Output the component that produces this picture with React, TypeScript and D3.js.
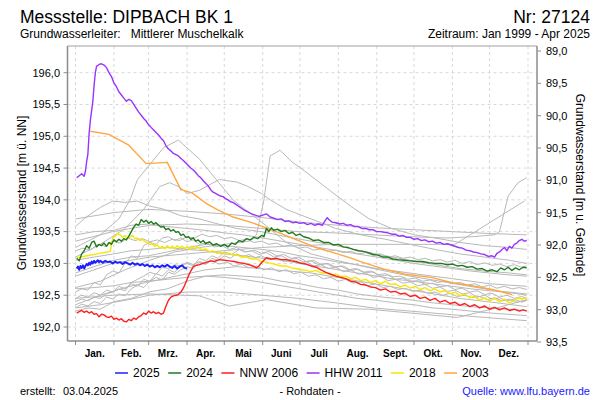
import React from "react";
import * as d3 from "d3";

type Pt = [number, number];

// ---------- DATA ----------
const MONTHS = ["Jan.", "Feb.", "Mrz.", "Apr.", "Mai", "Juni", "Juli", "Aug.", "Sept.", "Okt.", "Nov.", "Dez."];
const MONTH_START = [0, 31, 59, 90, 120, 151, 181, 212, 243, 273, 304, 334, 365];
const LEFT_TICKS = [192, 192.5, 193, 193.5, 194, 194.5, 195, 195.5, 196];
const RIGHT_TICKS = [89, 89.5, 90, 90.5, 91, 91.5, 92, 92.5, 93, 93.5];

const S2025: Pt[] = [[1,192.92],[2,192.95],[3,192.9],[4,192.96],[5,192.93],[6,192.97],[7,192.92],[8,192.96],[9,192.99],[10,192.97],[11,193.01],[12,192.98],[13,193.03],[14,193.0],[15,193.04],[16,193.01],[17,193.03],[18,193.05],[19,193.02],[20,193.04],[22,193.01],[24,193.04],[26,193.02],[28,193.03],[30,193.0],[32,193.03],[34,193.01],[36,193.02],[38,192.99],[40,193.02],[42,193.0],[44,192.98],[46,193.01],[48,192.98],[50,193.0],[52,192.97],[54,192.99],[56,192.96],[58,192.98],[60,192.95],[62,192.97],[64,192.94],[66,192.96],[68,192.94],[70,192.97],[72,192.95],[74,192.98],[76,192.95],[78,192.93],[80,192.96],[82,192.92],[84,192.95],[86,192.97],[88,192.93],[90,192.92]];

const S2024: Pt[] = [[1,193.08],[3,193.04],[5,193.15],[7,193.2],[9,193.28],[11,193.24],[13,193.33],[15,193.35],[17,193.26],[19,193.3],[21,193.28],[23,193.32],[25,193.27],[27,193.33],[29,193.3],[31,193.37],[33,193.34],[35,193.38],[37,193.35],[39,193.39],[41,193.37],[43,193.43],[45,193.5],[47,193.57],[49,193.62],[51,193.6],[53,193.69],[55,193.65],[57,193.68],[59,193.63],[61,193.66],[63,193.62],[65,193.64],[67,193.6],[69,193.57],[71,193.58],[73,193.53],[75,193.55],[77,193.51],[79,193.53],[81,193.49],[83,193.5],[85,193.44],[87,193.46],[89,193.41],[91,193.42],[93,193.38],[95,193.4],[97,193.35],[99,193.37],[101,193.33],[103,193.36],[105,193.31],[108,193.34],[111,193.29],[114,193.31],[117,193.27],[120,193.3],[123,193.26],[126,193.32],[129,193.3],[132,193.36],[135,193.34],[138,193.39],[141,193.37],[144,193.41],[147,193.39],[150,193.44],[152,193.42],[154,193.55],[156,193.5],[158,193.56],[160,193.52],[163,193.54],[166,193.5],[169,193.52],[172,193.47],[175,193.49],[178,193.44],[181,193.46],[184,193.42],[188,193.4],[192,193.36],[196,193.37],[200,193.33],[204,193.33],[208,193.29],[212,193.3],[216,193.26],[220,193.25],[224,193.22],[228,193.2],[232,193.19],[236,193.17],[240,193.14],[244,193.13],[248,193.1],[252,193.1],[256,193.07],[260,193.06],[265,193.05],[270,193.04],[275,193.03],[280,193.03],[285,193.01],[290,193.0],[295,193.0],[300,192.98],[304,192.99],[308,192.96],[312,192.97],[316,192.94],[320,192.95],[324,192.91],[328,192.92],[332,192.88],[336,192.9],[340,192.87],[343,192.93],[346,192.9],[349,192.94],[352,192.89],[355,192.93],[358,192.9],[361,192.94],[364,192.93]];

const NNW2006: Pt[] = [[1,192.22],[3,192.24],[5,192.26],[7,192.23],[9,192.25],[11,192.22],[13,192.24],[15,192.2],[17,192.21],[19,192.16],[21,192.2],[23,192.19],[25,192.16],[27,192.15],[29,192.17],[31,192.12],[33,192.14],[35,192.11],[37,192.13],[39,192.09],[41,192.08],[43,192.12],[45,192.1],[47,192.14],[49,192.12],[51,192.16],[53,192.18],[55,192.22],[57,192.2],[59,192.25],[61,192.22],[63,192.24],[65,192.21],[67,192.23],[69,192.2],[71,192.22],[73,192.33],[75,192.42],[77,192.47],[79,192.49],[81,192.5],[83,192.51],[85,192.55],[87,192.61],[89,192.7],[91,192.8],[93,192.88],[95,192.95],[97,192.97],[100,192.98],[103,193.0],[106,193.02],[109,193.04],[112,193.03],[116,193.06],[120,193.05],[124,193.04],[128,193.03],[132,193.01],[136,193.0],[140,192.98],[143,192.96],[146,192.93],[148,192.96],[150,193.01],[152,193.05],[154,193.09],[158,193.07],[162,193.08],[166,193.06],[170,193.06],[174,193.04],[178,193.03],[182,193.0],[186,192.99],[190,192.96],[194,192.94],[198,192.9],[202,192.86],[206,192.83],[210,192.8],[214,192.78],[218,192.76],[222,192.72],[226,192.71],[230,192.67],[234,192.66],[238,192.63],[242,192.62],[246,192.58],[250,192.6],[254,192.55],[258,192.56],[262,192.52],[266,192.53],[270,192.48],[274,192.5],[278,192.45],[282,192.47],[286,192.42],[290,192.45],[294,192.39],[298,192.42],[302,192.37],[306,192.39],[310,192.34],[314,192.37],[318,192.32],[322,192.35],[326,192.3],[330,192.33],[334,192.28],[338,192.31],[342,192.27],[346,192.3],[350,192.26],[354,192.28],[358,192.25],[361,192.27],[364,192.25]];

const HHW2011: Pt[] = [[1,194.35],[3,194.38],[5,194.41],[7,194.37],[8,194.45],[9,194.6],[10,194.72],[11,195.05],[12,195.25],[13,195.4],[14,195.55],[15,195.8],[16,196.0],[17,196.1],[19,196.13],[21,196.14],[23,196.12],[25,196.08],[27,196.0],[29,195.94],[31,195.84],[33,195.78],[35,195.7],[37,195.65],[39,195.6],[41,195.55],[43,195.58],[45,195.56],[47,195.5],[49,195.44],[51,195.38],[53,195.33],[55,195.28],[57,195.24],[59,195.18],[61,195.14],[63,195.1],[65,195.06],[67,195.02],[69,194.97],[71,194.93],[73,194.85],[75,194.8],[77,194.77],[79,194.73],[81,194.71],[83,194.69],[85,194.65],[87,194.62],[89,194.58],[91,194.54],[93,194.5],[95,194.47],[97,194.43],[99,194.38],[101,194.35],[103,194.3],[105,194.26],[107,194.22],[109,194.16],[111,194.12],[113,194.1],[115,194.08],[117,194.06],[119,194.05],[121,194.02],[123,194.0],[125,193.97],[127,193.96],[130,193.92],[133,193.88],[136,193.84],[139,193.81],[142,193.78],[145,193.76],[148,193.74],[151,193.76],[154,193.78],[157,193.73],[160,193.71],[163,193.69],[166,193.7],[169,193.66],[172,193.67],[175,193.64],[178,193.65],[181,193.63],[184,193.64],[187,193.61],[190,193.63],[193,193.6],[196,193.62],[199,193.6],[201,193.66],[203,193.72],[205,193.68],[207,193.65],[210,193.64],[213,193.62],[216,193.63],[219,193.6],[222,193.61],[225,193.58],[228,193.58],[231,193.55],[234,193.55],[237,193.53],[240,193.53],[243,193.5],[246,193.5],[249,193.49],[252,193.48],[255,193.46],[258,193.46],[261,193.43],[264,193.44],[267,193.41],[270,193.41],[273,193.38],[276,193.39],[279,193.36],[282,193.37],[285,193.34],[288,193.35],[291,193.32],[294,193.33],[297,193.3],[300,193.31],[303,193.29],[306,193.27],[309,193.25],[312,193.24],[315,193.21],[318,193.2],[321,193.18],[324,193.17],[327,193.15],[330,193.14],[333,193.11],[336,193.12],[338,193.1],[340,193.16],[342,193.18],[344,193.22],[346,193.25],[348,193.2],[350,193.27],[352,193.24],[354,193.3],[356,193.32],[358,193.36],[360,193.38],[362,193.35],[364,193.36]];

const S2018: Pt[] = [[1,193.09],[28,193.19],[30,193.4],[32,193.43],[34,193.47],[36,193.45],[38,193.41],[40,193.44],[42,193.39],[44,193.42],[46,193.44],[48,193.39],[50,193.4],[52,193.36],[54,193.38],[56,193.34],[58,193.33],[60,193.3],[62,193.31],[64,193.27],[66,193.29],[68,193.24],[70,193.27],[72,193.23],[74,193.28],[76,193.24],[78,193.27],[80,193.23],[82,193.28],[84,193.24],[86,193.27],[88,193.23],[90,193.26],[92,193.22],[94,193.27],[96,193.23],[98,193.26],[100,193.24],[102,193.21],[105,193.23],[108,193.18],[111,193.2],[114,193.16],[117,193.18],[120,193.15],[124,193.16],[127,193.13],[130,193.14],[134,193.1],[138,193.1],[142,193.07],[146,193.07],[150,193.03],[154,193.02],[158,193.0],[162,192.98],[166,192.96],[170,192.96],[174,192.93],[178,192.92],[182,192.9],[186,192.89],[190,192.87],[194,192.89],[198,192.85],[202,192.85],[206,192.82],[210,192.83],[214,192.79],[218,192.8],[222,192.76],[226,192.78],[230,192.73],[234,192.75],[238,192.7],[242,192.73],[246,192.68],[250,192.72],[254,192.67],[258,192.68],[262,192.63],[266,192.66],[270,192.61],[274,192.64],[278,192.59],[282,192.62],[286,192.57],[290,192.6],[294,192.55],[298,192.57],[302,192.52],[306,192.55],[310,192.49],[314,192.52],[318,192.46],[322,192.48],[326,192.42],[330,192.46],[334,192.41],[338,192.45],[342,192.4],[346,192.44],[350,192.38],[354,192.42],[357,192.46],[360,192.44],[364,192.46]];

const S2003: Pt[] = [[12,195.08],[27,195.03],[43,194.86],[57,194.57],[74,194.59],[85,194.16],[94,194.11],[105,193.95],[114,193.85],[127,193.73],[141,193.65],[154,193.56],[167,193.46],[181,193.35],[194,193.25],[208,193.17],[221,193.09],[233,193.01],[249,192.91],[266,192.83],[287,192.78],[303,192.7],[322,192.64],[336,192.59],[352,192.51]];

const GRAY_YEARS: Pt[][] = [
  [[0,192.62],[20,192.72],[40,192.9],[60,193.05],[80,193.18],[100,193.25],[120,193.3],[140,193.35],[146,193.45],[152,194.0],[157,194.69],[165,194.78],[175,194.59],[181,194.51],[195,194.3],[207,194.12],[222,193.9],[237,193.7],[255,193.55],[273,193.45],[290,193.4],[310,193.33],[330,193.28],[350,193.25],[364,193.22]],
  [[0,193.25],[20,193.45],[35,193.7],[44,194.0],[50,194.32],[71,194.82],[83,194.94],[100,194.64],[127,194.0],[154,193.59],[170,193.33],[190,193.15],[210,193.05],[240,192.92],[270,192.8],[300,192.7],[330,192.6],[364,192.5]],
  [[0,193.58],[8,193.72],[20,193.88],[30,193.98],[40,193.96],[50,193.98],[60,193.9],[70,193.86],[85,193.75],[100,193.7],[115,193.62],[130,193.55],[150,193.5],[170,193.42],[190,193.35],[210,193.28],[230,193.2],[250,193.12],[270,193.05],[290,192.98],[310,192.92],[330,192.88],[350,192.85],[364,192.82]],
  [[0,193.1],[20,193.3],[40,193.55],[55,193.85],[68,194.21],[76,194.27],[84,194.2],[90,194.1],[100,194.15],[116,194.32],[130,194.28],[138,194.22],[150,194.1],[157,194.0],[170,193.85],[190,193.7],[210,193.55],[230,193.45],[250,193.38],[270,193.3],[290,193.22],[310,193.15],[330,193.1],[350,193.05],[364,193.0]],
  [[0,193.35],[30,193.5],[60,193.6],[90,193.62],[120,193.6],[150,193.55],[180,193.5],[210,193.48],[240,193.45],[270,193.42],[300,193.4],[320,193.42],[338,193.45],[342,193.5],[349,194.06],[357,194.27],[364,194.35]],
  [[0,192.8],[30,193.0],[60,193.1],[90,193.15],[120,193.2],[150,193.25],[180,193.28],[210,193.3],[240,193.3],[270,193.3],[306,193.3],[362,193.98]],
  [[0,192.45],[30,192.5],[60,192.52],[100,192.49],[124,192.33],[154,192.43],[194,192.3],[237,192.28],[270,192.22],[308,192.15],[340,192.3],[364,192.43]],
  [[0,192.35],[20,192.5],[40,192.62],[57,192.7],[105,192.9],[130,192.95],[160,192.9],[190,192.85],[220,192.75],[250,192.65],[280,192.55],[310,192.45],[340,192.38],[364,192.32]],
  [[0,192.3],[5,192.36],[10,192.33],[15,192.4],[20,192.37],[25,192.47],[30,192.44],[35,192.52],[40,192.49],[45,192.6],[50,192.66],[55,192.62],[60,192.72],[65,192.78],[70,192.74],[75,192.86],[80,192.83],[85,192.9],[90,192.95],[95,192.92],[100,193.02],[105,192.98],[110,193.08],[115,193.05],[120,193.12],[125,193.08],[130,193.15],[135,193.11],[140,193.14],[145,193.09],[150,193.12],[156,193.06],[162,193.09],[168,193.03],[174,193.06],[180,193.0],[186,193.03],[192,192.96],[198,192.98],[204,192.92],[210,192.94],[216,192.87],[222,192.9],[228,192.83],[234,192.85],[240,192.78],[246,192.8],[252,192.73],[258,192.75],[264,192.69],[270,192.71],[276,192.65],[282,192.67],[288,192.61],[294,192.63],[300,192.56],[306,192.58],[312,192.52],[318,192.54],[324,192.47],[330,192.5],[336,192.44],[342,192.46],[348,192.41],[354,192.44],[360,192.39],[364,192.42]],
  [[0,192.45],[5,192.5],[10,192.47],[15,192.54],[20,192.5],[25,192.58],[30,192.55],[35,192.64],[40,192.6],[45,192.68],[50,192.64],[55,192.75],[60,192.72],[65,192.84],[70,192.8],[75,192.9],[80,192.86],[85,192.97],[90,193.0],[95,192.96],[100,193.08],[105,193.04],[110,193.12],[115,193.08],[120,193.18],[126,193.14],[132,193.22],[138,193.18],[144,193.21],[150,193.16],[156,193.19],[162,193.12],[168,193.14],[174,193.08],[180,193.1],[186,193.03],[192,193.05],[198,192.98],[204,193.0],[210,192.94],[216,192.96],[222,192.89],[228,192.91],[234,192.85],[240,192.87],[246,192.8],[252,192.82],[258,192.75],[264,192.77],[270,192.71],[276,192.73],[282,192.67],[288,192.69],[294,192.63],[300,192.65],[306,192.59],[312,192.61],[318,192.55],[324,192.57],[330,192.51],[336,192.53],[342,192.47],[348,192.5],[354,192.45],[360,192.48],[364,192.45]],
  [[0,192.25],[10,192.3],[20,192.28],[31,192.4],[45,192.45],[59,192.55],[74,192.6],[90,192.72],[105,192.8],[120,192.78],[135,192.75],[151,192.7],[166,192.65],[181,192.6],[196,192.55],[212,192.5],[227,192.45],[243,192.42],[258,192.38],[273,192.35],[288,192.3],[304,192.28],[319,192.25],[334,192.22],[349,192.2],[364,192.18]],
  [[0,193.05],[15,193.1],[31,193.15],[45,193.2],[59,193.22],[74,193.25],[90,193.22],[105,193.2],[120,193.15],[135,193.12],[151,193.08],[166,193.05],[181,193.0],[196,192.95],[212,192.9],[227,192.85],[243,192.8],[258,192.75],[273,192.72],[288,192.68],[304,192.64],[319,192.6],[334,192.57],[349,192.55],[364,192.52]],
  [[0,192.55],[5,192.6],[10,192.58],[15,192.7],[20,192.66],[25,192.82],[30,192.88],[35,192.85],[40,193.0],[45,193.12],[50,193.08],[55,193.28],[60,193.33],[65,193.3],[70,193.4],[75,193.42],[80,193.36],[85,193.4],[90,193.34],[95,193.37],[100,193.3],[106,193.33],[112,193.26],[118,193.28],[124,193.22],[130,193.25],[136,193.18],[142,193.2],[148,193.14],[154,193.17],[160,193.1],[166,193.12],[172,193.06],[178,193.08],[184,193.02],[190,193.04],[196,192.98],[202,193.0],[208,192.94],[214,192.96],[220,192.9],[226,192.92],[232,192.86],[238,192.88],[244,192.82],[250,192.84],[256,192.79],[262,192.8],[268,192.75],[274,192.77],[280,192.72],[286,192.74],[292,192.7],[298,192.72],[304,192.68],[310,192.7],[316,192.66],[322,192.68],[328,192.63],[334,192.66],[340,192.61],[346,192.64],[352,192.6],[358,192.62],[364,192.59]],
  [[0,193.45],[15,193.5],[31,193.52],[45,193.6],[59,193.62],[74,193.58],[90,193.55],[105,193.52],[120,193.48],[135,193.45],[151,193.4],[166,193.35],[181,193.3],[196,193.25],[212,193.2],[227,193.15],[243,193.1],[258,193.05],[273,193.0],[288,192.96],[304,192.92],[319,192.88],[334,192.85],[349,192.82],[364,192.8]],
  [[0,192.6],[15,192.62],[31,192.65],[45,192.7],[59,192.72],[74,192.75],[90,192.78],[105,192.8],[120,192.82],[135,192.8],[151,192.78],[166,192.72],[181,192.68],[196,192.62],[212,192.58],[227,192.52],[243,192.48],[258,192.45],[273,192.42],[288,192.38],[304,192.35],[319,192.32],[334,192.3],[349,192.28],[364,192.26]],
  [[0,192.4],[5,192.44],[10,192.41],[15,192.47],[20,192.45],[25,192.52],[30,192.55],[35,192.6],[40,192.57],[45,192.7],[50,192.75],[55,192.8],[60,192.86],[65,192.83],[70,192.94],[75,192.92],[80,192.98],[85,192.96],[90,193.02],[95,192.98],[100,193.03],[105,193.0],[110,193.04],[116,192.99],[122,193.02],[128,192.96],[134,192.99],[140,192.93],[146,192.96],[152,192.9],[158,192.93],[164,192.87],[170,192.9],[176,192.84],[182,192.86],[188,192.8],[194,192.82],[200,192.76],[206,192.78],[212,192.72],[218,192.75],[224,192.69],[230,192.71],[236,192.65],[242,192.68],[248,192.62],[254,192.64],[260,192.59],[266,192.61],[272,192.56],[278,192.58],[284,192.53],[290,192.55],[296,192.5],[302,192.53],[308,192.48],[314,192.5],[320,192.46],[326,192.48],[332,192.43],[338,192.46],[344,192.41],[350,192.44],[356,192.39],[364,192.42]],
  [[0,193.2],[6,193.24],[12,193.21],[18,193.3],[24,193.27],[30,193.35],[36,193.32],[42,193.4],[48,193.36],[54,193.39],[60,193.34],[66,193.37],[72,193.33],[78,193.38],[84,193.36],[90,193.42],[96,193.4],[102,193.46],[108,193.42],[114,193.44],[120,193.39],[126,193.41],[132,193.36],[138,193.38],[144,193.33],[150,193.35],[156,193.3],[162,193.32],[168,193.27],[174,193.29],[180,193.24],[186,193.26],[192,193.21],[198,193.23],[204,193.19],[210,193.21],[216,193.17],[222,193.19],[228,193.15],[234,193.17],[240,193.13],[246,193.15],[252,193.1],[258,193.12],[264,193.08],[270,193.1],[276,193.06],[282,193.08],[288,193.04],[294,193.06],[300,193.02],[306,193.05],[312,193.0],[318,193.03],[324,192.98],[330,193.01],[336,192.97],[342,192.99],[348,192.95],[354,192.98],[360,192.94],[364,192.96]],
  [[0,193.7],[31,193.8],[59,193.85],[90,193.82],[120,193.78],[151,193.72],[181,193.65],[212,193.6],[243,193.56],[273,193.53],[304,193.5],[334,193.47],[364,193.45]],
  [[0,192.3],[20,192.35],[40,192.42],[60,192.5],[90,192.55],[120,192.55],[150,192.5],[180,192.45],[210,192.38],[240,192.3],[270,192.25],[300,192.2],[330,192.15],[364,192.1]],
  [[0,192.85],[15,192.95],[31,193.05],[45,193.1],[59,193.12],[74,193.18],[90,193.25],[105,193.3],[120,193.28],[135,193.25],[151,193.22],[166,193.18],[181,193.12],[196,193.08],[212,193.02],[227,192.98],[243,192.92],[258,192.88],[273,192.84],[288,192.8],[304,192.76],[319,192.72],[334,192.68],[349,192.66],[364,192.64]],
];

const SERIES_NAMES = ["2025", "2024", "NNW 2006", "HHW 2011", "2018", "2003"];
const SERIES_DATA = [S2025, S2024, NNW2006, HHW2011, S2018, S2003];
const SERIES_COLORS = ["#1f1fff", "#1f7a1f", "#ff1f1f", "#9933ff", "#f7e600", "#ffa640"];

// ---------- LAYOUT ----------
const W = 600, H = 400;
const PL = 67.5, PR = 537, PT = 46, PB = 341;
const FONT = "'Liberation Sans', Arial, sans-serif";

function measure(text: string, font: string): number {
  if (typeof document === "undefined") return text.length * 6;
  const c = document.createElement("canvas").getContext("2d");
  if (!c) return text.length * 6;
  c.font = font;
  return c.measureText(text).width;
}

const fmt = (v: number) => d3.format(".1f")(v).replace(".", ",");

export default function App() {
  const x = d3.scaleLinear().domain([0, 365]).range([75.5, 528]);
  const y = d3.scaleLinear().domain([192, 196]).range([327, 72.7]);
  const yR = d3.scaleLinear().domain([89, 93.5]).range([51, 342]);
  const line = d3.line<Pt>().x((d) => x(d[0])).y((d) => y(d[1]));

  const drawOrder = [5, 4, 3, 2, 1, 0];

  let lx = 115;
  const legend = SERIES_NAMES.map((name, i) => {
    const item = { name, color: SERIES_COLORS[i], x: lx };
    lx += 18 + measure(name, `12px ${FONT}`) + 8.5;
    return item;
  });

  const gridColor = "#d8d8d8";
  const axisColor = "#8c8c8c";

  return (
    <svg width={W} height={H} style={{ position: "absolute", left: 0, top: 0, background: "#fff" }} fontFamily={FONT}>
      <defs>
        <clipPath id="plot">
          <rect x={PL} y={PT} width={PR - PL} height={PB - PT} />
        </clipPath>
      </defs>
      <text x={20} y={23} fontSize={17.5} fill="#000">Messstelle: DIPBACH BK 1</text>
      <text x={590} y={23} fontSize={17.5} fill="#000" textAnchor="end">Nr: 27124</text>
      <text x={20} y={38} fontSize={12} fill="#000" xmlSpace="preserve">Grundwasserleiter:   Mittlerer Muschelkalk</text>
      <text x={590} y={38} fontSize={12} fill="#000" textAnchor="end">Zeitraum: Jan 1999 - Apr 2025</text>

      {LEFT_TICKS.map((t) => (
        <line key={"hg" + t} x1={PL} x2={PR} y1={y(t)} y2={y(t)} stroke={gridColor} strokeDasharray="3,3" />
      ))}
      {MONTH_START.map((d) => (
        <line key={"vg" + d} x1={x(d)} x2={x(d)} y1={PT} y2={PB} stroke={gridColor} strokeDasharray="3,3" />
      ))}

      <g clipPath="url(#plot)" fill="none" strokeLinejoin="round">
        {GRAY_YEARS.map((s, i) => (
          <path key={"g" + i} d={line(s) || ""} stroke="#b8b8b8" strokeWidth={1} />
        ))}
        {drawOrder.map((i) => (
          <path key={"s" + i} d={line(SERIES_DATA[i]) || ""} stroke={SERIES_COLORS[i]} strokeWidth={i === 0 ? 2 : 1.4} />
        ))}
      </g>

      <line x1={PL} x2={PR} y1={PT} y2={PT} stroke="#a0a0a0" />
      <line x1={PL} x2={PL} y1={PT} y2={PB} stroke={axisColor} strokeWidth={1.5} />
      <line x1={PR} x2={PR} y1={PT} y2={PB} stroke={axisColor} strokeWidth={1.5} />
      <line x1={PL} x2={PR} y1={PB} y2={PB} stroke={axisColor} strokeWidth={1.5} />

      {LEFT_TICKS.map((t) => (
        <g key={"lt" + t}>
          <line x1={PL - 4} x2={PL} y1={y(t)} y2={y(t)} stroke={axisColor} />
          <text x={60} y={y(t)} dy="0.35em" fontSize={11} textAnchor="end" fill="#000">{fmt(t)}</text>
        </g>
      ))}
      {RIGHT_TICKS.map((t) => (
        <g key={"rt" + t}>
          <line x1={PR} x2={PR + 4} y1={yR(t)} y2={yR(t)} stroke={axisColor} />
          <text x={546} y={yR(t)} dy="0.35em" fontSize={11} textAnchor="start" fill="#000">{fmt(t)}</text>
        </g>
      ))}
      {MONTH_START.map((d) => (
        <line key={"bt" + d} x1={x(d)} x2={x(d)} y1={PB} y2={PB + 4} stroke={axisColor} />
      ))}
      {MONTHS.map((m, i) => (
        <text key={m} x={x((MONTH_START[i] + MONTH_START[i + 1]) / 2)} y={353} dy="0.35em" fontSize={10} fontWeight="bold" textAnchor="middle" fill="#000">{m}</text>
      ))}

      <text transform={`translate(22,193) rotate(-90)`} fontSize={12} textAnchor="middle" dy="0.35em" fill="#000">Grundwasserstand [m ü. NN]</text>
      <text transform={`translate(580,185) rotate(90)`} fontSize={12} textAnchor="middle" dy="0.35em" fill="#000">Grundwasserstand [m u. Gelände]</text>

      {legend.map((l) => (
        <g key={l.name}>
          <line x1={l.x} x2={l.x + 13} y1={373} y2={373} stroke={l.color} strokeWidth={1.5} />
          <text x={l.x + 18} y={373} dy="0.35em" fontSize={12} fill="#000">{l.name}</text>
        </g>
      ))}

      <text x={20} y={391} dy="0.35em" fontSize={11} fill="#000">erstellt:</text>
      <text x={63} y={391} dy="0.35em" fontSize={11} fill="#000">03.04.2025</text>
      <text x={310} y={391} dy="0.35em" fontSize={11} fill="#000" textAnchor="middle">- Rohdaten -</text>
      <text x={590} y={391} dy="0.35em" fontSize={11} fill="#1a1aff" textAnchor="end">Quelle: www.lfu.bayern.de</text>
    </svg>
  );
}
